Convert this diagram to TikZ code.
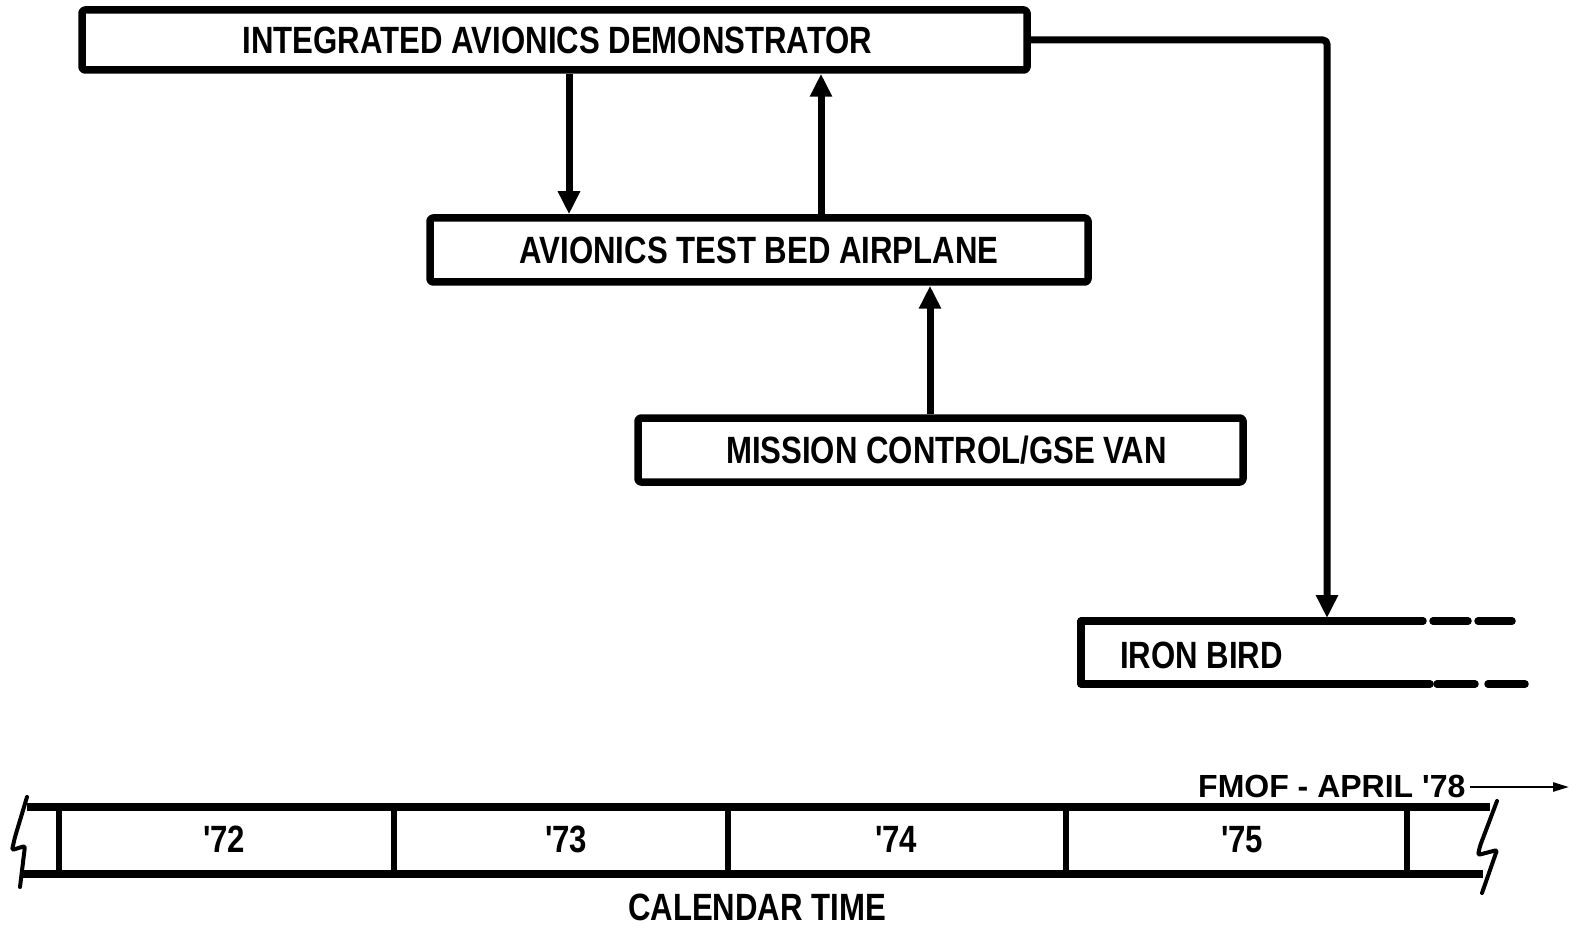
\documentclass[tikz,border=0pt]{standalone}
\usepackage{fontspec}
\newfontfamily\lab{Liberation Sans}[FakeStretch=0.82]
\newfontfamily\labwide{Liberation Sans}
\usetikzlibrary{arrows.meta}
\begin{document}
\begin{tikzpicture}[x=1pt,y=-1pt,line join=round]
\useasboundingbox[fill=white] (0,0) rectangle (1574,925);
\tikzset{
  box/.style={draw,line width=7.5pt,rounded corners=3pt,inner sep=0pt,
    text height=27pt,text depth=0pt,
    font=\lab\bfseries\fontsize{38}{40}\selectfont},
  lbl/.style={inner sep=0pt,anchor=base,font=\lab\bfseries\fontsize{38}{40}\selectfont},
  conn/.style={line width=7pt,-{Triangle[length=23pt,width=21pt]}},
  heavy/.style={line width=7.5pt,line cap=round},
  tl/.style={line width=8pt},
  divider/.style={line width=6pt},
  brk/.style={line width=4pt,line cap=round,rounded corners=2pt},
}
% boxes
\node[box,minimum width=945pt,minimum height=60pt] (ia) at (554.5,40) {\hspace*{6pt}INTEGRATED AVIONICS DEMONSTRATOR};
\node[box,minimum width=658pt,minimum height=64pt] (atb) at (759,250) {AVIONICS TEST BED AIRPLANE};
\node[box,minimum width=605pt,minimum height=64pt] (mc) at (940.5,450) {\hspace*{12pt}MISSION CONTROL/GSE VAN};
% iron bird
\node[lbl,anchor=base west] (ib) at (1120,668) {IRON BIRD};
\draw[heavy] (1423,621) -- (1081,621) -- (1081,684) -- (1430,684);
\draw[heavy] (1433,621) -- (1468,621) (1478,621) -- (1512,621);
\draw[heavy] (1437,684) -- (1475,684) (1488,684) -- (1525,684);
\coordinate (ibin) at (1327,618);
% connectors
\draw[conn] (ia.south -| 569,0) -- (atb.north -| 569,0);
\draw[conn] (atb.north -| 821,0) -- (ia.south -| 821,0);
\draw[conn] (mc.north -| 930,0) -- (atb.south -| 930,0);
\draw[conn,rounded corners=4pt] (ia.east) -| (ibin);
% timeline
\draw[tl] (27,807) -- (1490,807);
\draw[tl] (20,874) -- (1483,874);
\foreach \x in {59,394,728,1066,1407}
  \draw[divider] (\x,807) -- (\x,874);
\draw[brk] (27,797) -- (15,837) -- (12,850) -- (25,846) -- (20,887);
\draw[brk] (1497,801) -- (1480,846) -- (1478,855) -- (1497,850) -- (1482,893);
\node[lbl] (y72) at (224,852) {\textquotesingle\kern-2pt 72};
\node[lbl] (y73) at (566,852) {\textquotesingle\kern-2pt 73};
\node[lbl] (y74) at (896,852) {\textquotesingle\kern-2pt 74};
\node[lbl] (y75) at (1242,852) {\textquotesingle\kern-2pt 75};
\node[lbl] (cal) at (757,920) {CALENDAR TIME};
\node[inner sep=0pt,anchor=base west,font=\labwide\bfseries\fontsize{32}{34}\selectfont] (fmof) at (1198,797) {FMOF - APRIL \textquotesingle 78};
\coordinate (fend) at (1569,787);
\draw[line width=2.5pt,-{Triangle[length=16pt,width=9pt]}] (fmof.east |- fend) ++(4,0) -- (fend);
\end{tikzpicture}
\end{document}
